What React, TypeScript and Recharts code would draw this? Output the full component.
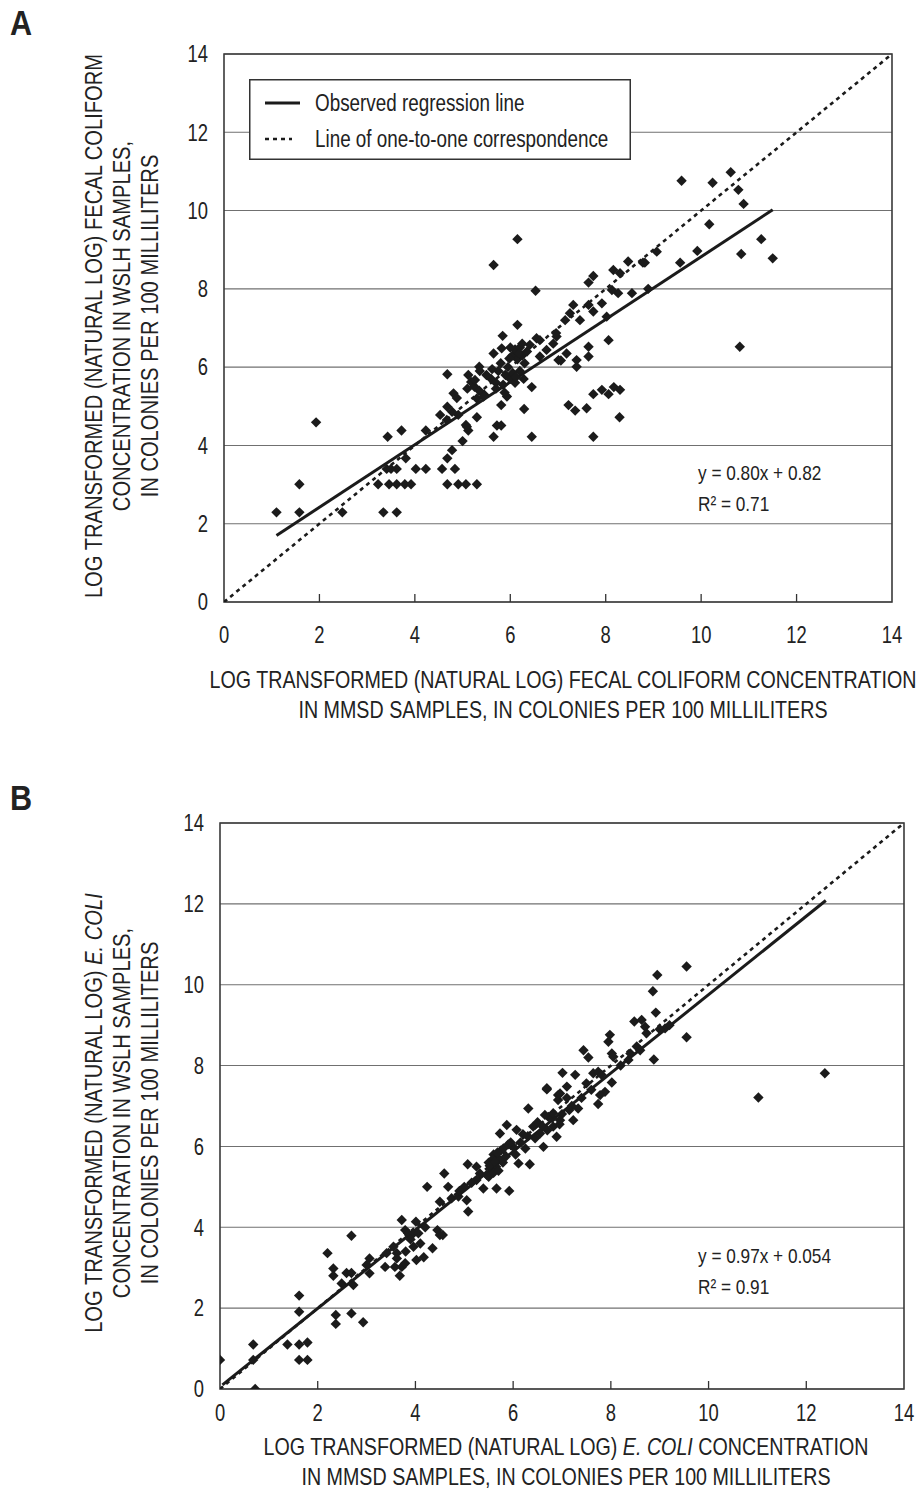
import React from 'react';
import {
  ScatterChart,
  Scatter,
  XAxis,
  YAxis,
  CartesianGrid,
  ReferenceArea,
  Legend,
} from 'recharts';

// Condensed sans: Liberation Sans squeezed horizontally
const FONT = "'Liberation Sans', Arial, sans-serif";
const NARROW = 0.82;
const INK = '#1b1b1b';
const TEXT = '#222';

// Shared axis ticks (natural-log units)
const AXIS_TICKS = [0, 2, 4, 6, 8, 10, 12, 14];

// A: fecal coliform, [MMSD, WSLH]
const fecalPoints: [number, number][] = [
  [1.10, 2.29], [1.58, 3.01], [1.58, 2.29], [1.93, 4.59], [2.48, 2.29],
  [3.34, 2.29], [3.62, 2.29],
  [3.23, 3.01], [3.46, 3.01], [3.62, 3.01], [3.79, 3.01], [3.92, 3.01],
  [3.41, 3.40], [3.50, 3.40], [3.62, 3.40], [4.02, 3.40], [4.23, 3.40],
  [3.81, 3.67], [3.43, 4.22], [3.72, 4.38], [4.23, 4.38],
  [4.57, 3.40], [4.84, 3.40],
  [4.68, 3.01], [4.91, 3.01], [5.07, 3.01], [5.30, 3.01],
  [4.68, 3.67], [4.78, 3.88], [5.00, 4.11], [5.07, 4.52], [5.12, 4.38], [5.30, 4.72],
  [5.65, 4.22], [5.72, 4.51], [5.81, 4.51], [5.81, 5.03], [6.29, 4.93], [6.45, 4.22],
  [4.53, 4.78], [4.67, 4.65], [4.68, 4.99], [4.91, 4.78], [4.78, 4.86], [4.81, 5.33], [4.88, 5.21],
  [4.68, 5.82], [5.09, 4.48],
  [5.12, 5.80], [5.18, 5.62], [5.25, 5.50], [5.10, 5.45], [5.45, 5.30], [5.35, 5.40], [5.30, 5.20],
  [5.35, 6.01], [5.36, 5.90], [5.26, 5.67], [5.44, 5.25],
  [5.65, 6.35], [5.84, 6.80], [6.15, 7.08], [5.65, 8.61], [6.15, 9.27], [6.53, 7.95],
  [5.93, 5.25], [6.45, 5.49],
  [5.60, 5.70], [5.70, 5.60], [5.75, 5.90], [5.80, 6.10], [5.85, 5.55], [5.90, 5.80], [5.95, 6.00],
  [6.00, 5.70], [6.05, 6.30], [6.10, 6.45], [6.15, 6.20], [6.20, 6.50], [6.25, 6.30], [6.30, 6.10],
  [6.05, 5.85], [5.70, 5.45], [5.62, 5.95], [5.50, 5.80], [6.00, 6.50], [6.20, 5.90], [6.35, 6.40],
  [6.10, 5.60], [5.82, 6.48], [6.41, 6.57], [6.55, 6.74], [6.62, 6.27], [6.76, 6.44], [6.97, 6.78],
  [7.01, 6.18], [6.62, 6.69], [6.90, 6.60],
  [6.25, 6.60], [6.18, 6.35], [5.98, 6.22], [6.12, 5.75], [5.88, 5.35], [6.28, 5.70],
  [9.59, 10.76], [10.24, 10.71], [10.62, 10.98], [10.78, 10.53], [10.89, 10.17], [10.17, 9.65],
  [11.26, 9.27], [10.84, 8.89], [11.50, 8.78], [10.81, 6.52],
  [9.92, 8.97], [9.56, 8.67], [9.07, 8.95], [8.78, 8.67], [8.82, 8.67], [8.47, 8.70], [8.30, 8.40],
  [8.16, 8.48], [7.74, 8.33], [7.64, 8.16], [8.89, 8.00], [8.55, 7.89], [8.26, 7.89], [8.13, 7.97],
  [7.92, 7.63], [7.74, 7.42], [7.64, 7.59], [7.32, 7.59], [7.25, 7.38], [7.46, 7.20], [7.15, 7.20],
  [8.02, 7.29], [6.96, 6.87], [7.64, 6.52], [8.06, 6.69], [7.18, 6.35], [7.06, 6.17], [7.39, 6.18],
  [7.39, 6.01], [7.64, 6.27],
  [7.74, 5.31], [7.92, 5.42], [8.06, 5.31], [8.17, 5.49], [8.30, 5.42], [7.22, 5.03], [7.36, 4.89],
  [7.60, 4.95], [8.29, 4.72], [7.74, 4.22],
];

// B: E. coli, [MMSD, WSLH]
const ecoliPoints: [number, number][] = [
  [0.00, 0.72], [0.68, 1.10], [0.68, 0.72], [0.72, 0.00], [1.38, 1.10], [1.62, 1.10], [1.79, 1.15],
  [1.62, 0.72], [1.79, 0.72], [1.62, 2.31], [1.62, 1.91],
  [2.37, 1.83], [2.37, 1.61], [2.69, 1.87], [2.93, 1.65], [2.20, 3.36], [2.32, 2.98], [2.32, 2.80],
  [2.69, 3.79], [2.59, 2.87], [2.69, 2.87], [2.49, 2.61], [2.73, 2.57],
  [3.06, 3.23], [3.06, 2.86], [3.00, 3.07], [3.38, 3.02], [3.41, 3.36], [3.55, 3.52], [3.62, 3.36],
  [3.62, 3.23], [3.72, 4.18], [3.79, 3.93], [3.85, 3.85], [4.01, 4.14], [3.96, 3.85], [4.06, 3.85],
  [3.96, 3.52], [4.02, 3.19], [4.17, 3.26], [3.72, 3.02], [3.79, 3.11], [3.68, 2.80], [3.58, 3.02],
  [4.35, 3.48], [4.45, 3.93], [4.50, 3.81], [4.56, 3.81], [3.90, 3.70], [4.10, 3.60], [3.80, 3.40],
  [4.20, 4.00],
  [4.24, 5.00], [4.59, 5.33], [4.67, 5.00], [4.50, 4.63], [4.74, 4.72], [4.88, 4.76], [5.05, 4.67],
  [5.08, 4.39], [5.07, 5.56], [5.25, 5.50], [5.32, 5.33], [5.25, 5.17], [5.39, 4.96], [5.00, 5.00],
  [5.15, 5.10], [4.90, 4.90],
  [5.46, 5.30], [5.50, 5.60], [5.55, 5.45], [5.60, 5.80], [5.65, 5.50], [5.70, 5.70], [5.75, 5.90],
  [5.79, 5.60], [5.50, 5.25], [5.60, 5.35], [5.70, 5.40], [5.80, 5.95], [5.66, 4.96], [5.92, 4.90],
  [5.73, 6.32], [5.87, 6.53], [6.07, 6.41], [6.00, 5.99], [6.11, 5.58], [6.34, 5.56], [6.31, 6.94],
  [6.69, 7.41], [6.62, 5.99], [6.41, 6.49], [6.55, 6.32], [6.72, 6.73], [6.82, 6.49], [6.89, 6.24],
  [6.92, 7.15], [5.95, 6.10], [6.05, 5.80], [6.15, 6.10], [6.20, 6.30], [6.25, 5.95], [6.45, 6.20],
  [6.50, 6.60], [6.60, 6.50], [6.70, 6.40], [6.80, 6.70], [6.95, 6.55], [7.00, 6.80],
  [5.58, 5.68], [5.68, 5.85], [5.85, 5.75], [5.52, 5.52], [5.62, 5.62], [5.90, 6.05], [6.30, 6.25],
  [9.55, 10.45], [8.95, 10.24], [8.86, 9.84], [8.92, 9.31], [9.55, 8.70], [8.88, 8.15], [8.48, 9.09],
  [8.63, 9.13], [8.70, 8.96], [8.73, 8.80], [8.53, 8.47], [8.60, 8.38], [9.11, 8.92], [7.98, 8.76],
  [7.95, 8.59], [8.02, 8.30], [8.05, 8.22], [7.44, 8.38], [7.54, 8.20], [8.36, 8.14], [11.02, 7.21],
  [12.38, 7.81],
  [7.01, 7.82], [7.27, 7.77], [7.64, 7.81], [7.74, 7.85], [7.81, 7.77], [7.50, 7.56], [8.02, 7.58],
  [7.88, 7.35], [7.78, 7.27], [7.74, 7.05], [7.33, 6.94], [7.10, 7.48], [6.69, 7.44], [6.92, 7.27],
  [6.65, 6.78], [6.82, 6.82], [6.96, 6.65], [7.23, 6.65], [6.96, 7.31], [7.10, 7.20], [7.20, 7.00],
  [7.40, 7.20], [7.60, 7.40], [7.15, 6.90], [8.20, 8.00], [8.40, 8.30], [9.00, 8.90], [9.20, 9.00],
];

// Least-squares fits and the x-range each fitted line spans
const fecalFit = { slope: 0.8, intercept: 0.82, r2: 0.71, xRange: [1.1, 11.5] };
const ecoliFit = { slope: 0.97, intercept: 0.054, r2: 0.91, xRange: [0.05, 12.4] };

// Line of one-to-one correspondence
const oneToOneRange = [0, 14];

const REG_NAME = 'Observed regression line';
const ONE_NAME = 'Line of one-to-one correspondence';
const LEGEND_ORDER = [REG_NAME, ONE_NAME];

const lineStyles: Record<string, { width: number; dash?: string; len: number }> = {
  [REG_NAME]: { width: 3, len: 35 },
  [ONE_NAME]: { width: 2.6, dash: '4 4', len: 27 },
};

type Fit = { slope: number; intercept: number; r2: number; xRange: number[] };

const toXY = (pts: [number, number][]) => pts.map(([x, y]) => ({ x, y }));
const fitLine = (f: Fit) => f.xRange.map((x) => ({ x, y: f.slope * x + f.intercept }));
const diagonal = oneToOneRange.map((v) => ({ x: v, y: v }));

// Text drawn in a horizontally condensed face
const NText = ({
  x,
  y,
  size,
  anchor = 'start',
  rotate = 0,
  squeeze = NARROW,
  dy,
  weight,
  children,
}: {
  x: number;
  y: number;
  size: number;
  anchor?: 'start' | 'middle' | 'end';
  rotate?: number;
  squeeze?: number;
  dy?: string;
  weight?: string;
  children: React.ReactNode;
}) => (
  <text
    transform={`translate(${x},${y}) rotate(${rotate}) scale(${squeeze},1)`}
    textAnchor={anchor}
    dy={dy}
    fontFamily={FONT}
    fontSize={size}
    fontWeight={weight}
    fill={TEXT}
  >
    {children}
  </text>
);

const Diamond = (props: any) => {
  const { cx, cy } = props;
  if (cx == null || cy == null) return <g />;
  const r = 5.2;
  return (
    <polygon
      points={`${cx},${cy - r} ${cx + r},${cy} ${cx},${cy + r} ${cx - r},${cy}`}
      fill={INK}
    />
  );
};

const NoShape = () => <g />;

const makeXTick = (labelOffset: number) => (props: any) => {
  const { x, y, payload } = props;
  const v = payload.value;
  const inner = v > 0 && v < 14;
  return (
    <g>
      {inner && <line x1={x} x2={x} y1={y} y2={y - 8} stroke="#333" strokeWidth={1.3} />}
      <NText x={x} y={y + labelOffset} dy="0.36em" anchor="middle" size={23} squeeze={0.8}>
        {v}
      </NText>
    </g>
  );
};

const YTick = (props: any) => {
  const { x, y, payload } = props;
  return (
    <NText x={x} y={y} dy="0.36em" anchor="end" size={23} squeeze={0.8}>
      {payload.value}
    </NText>
  );
};

const LegendBox = (props: any) => {
  const payload: any[] = props.payload || [];
  const items = LEGEND_ORDER.filter((n) => payload.some((p) => p.value === n));
  return (
    <svg width={382} height={81} style={{ display: 'block' }}>
      <rect x={0.75} y={0.75} width={380.5} height={79.5} fill="#fff" stroke="#333" strokeWidth={1.5} />
      {items.map((name, i) => {
        const st = lineStyles[name];
        const cy = 24 + i * 36;
        return (
          <g key={name}>
            <line
              x1={16}
              x2={16 + st.len}
              y1={cy}
              y2={cy}
              stroke={INK}
              strokeWidth={st.width}
              strokeDasharray={st.dash}
            />
            <NText x={66} y={cy + 8} size={23}>
              {name}
            </NText>
          </g>
        );
      })}
    </svg>
  );
};

type PanelProps = {
  points: [number, number][];
  fit: Fit;
  width: number;
  height: number;
  margin: { top: number; right: number; bottom: number; left: number };
  tickOffset: number;
  legend?: { left: number; top: number };
};

const Panel = ({ points, fit, width, height, margin, tickOffset, legend }: PanelProps) => (
  <ScatterChart width={width} height={height} margin={margin}>
    <CartesianGrid vertical={false} stroke="#707070" strokeWidth={1.1} />
    <XAxis
      type="number"
      dataKey="x"
      domain={[0, 14]}
      ticks={AXIS_TICKS}
      interval={0}
      allowDataOverflow
      axisLine={false}
      tickLine={false}
      tickSize={0}
      tickMargin={0}
      height={40}
      tick={makeXTick(tickOffset)}
    />
    <YAxis
      type="number"
      dataKey="y"
      domain={[0, 14]}
      ticks={AXIS_TICKS}
      interval={0}
      allowDataOverflow
      axisLine={false}
      tickLine={false}
      tickSize={0}
      tickMargin={16}
      width={60}
      tick={YTick}
    />
    <ReferenceArea x1={0} x2={14} y1={0} y2={14} fill="none" fillOpacity={0} stroke="#3a3a3a" strokeWidth={1.6} />
    <Scatter
      name={REG_NAME}
      data={fitLine(fit)}
      shape={NoShape}
      line={{ stroke: INK, strokeWidth: 3 }}
      fill={INK}
      isAnimationActive={false}
    />
    <Scatter
      name={ONE_NAME}
      data={diagonal}
      shape={NoShape}
      line={{ stroke: INK, strokeWidth: 2.6, strokeDasharray: '4 4' }}
      fill={INK}
      isAnimationActive={false}
    />
    <Scatter
      name="Samples"
      data={toXY(points)}
      shape={Diamond}
      fill={INK}
      legendType="none"
      isAnimationActive={false}
    />
    {legend && (
      <Legend
        layout="horizontal"
        verticalAlign="middle"
        align="center"
        content={LegendBox}
        wrapperStyle={{ left: legend.left, top: legend.top, width: 382, height: 81 }}
      />
    )}
  </ScatterChart>
);

const fitText = (f: Fit) => `y = ${f.slope.toFixed(2)}x + ${f.intercept}`;
const r2Text = (f: Fit) => `R\u00B2 = ${f.r2.toFixed(2)}`;

const YTitle = ({ cy, lines }: { cy: number; lines: React.ReactNode[] }) => (
  <g>
    {lines.map((ln, i) => (
      <NText key={i} x={102 + i * 28} y={cy} rotate={-90} anchor="middle" size={24} squeeze={0.84}>
        {ln}
      </NText>
    ))}
  </g>
);

const XTitle = ({ cx, y, lines }: { cx: number; y: number; lines: React.ReactNode[] }) => (
  <g>
    {lines.map((ln, i) => (
      <NText key={i} x={cx} y={y + i * 30} anchor="middle" size={24}>
        {ln}
      </NText>
    ))}
  </g>
);

const FitLabel = ({ x, y, fit }: { x: number; y: number; fit: Fit }) => (
  <g>
    <NText x={x} y={y} size={21}>{fitText(fit)}</NText>
    <NText x={x} y={y + 31} size={21}>{r2Text(fit)}</NText>
  </g>
);

export default function App() {
  return (
    <div style={{ position: 'absolute', left: 0, top: 0, width: 919, height: 1498, background: '#fff' }}>
      <div style={{ position: 'absolute', left: 0, top: 0 }}>
        <Panel
          points={fecalPoints}
          fit={fecalFit}
          width={919}
          height={760}
          margin={{ top: 54, right: 27, bottom: 118, left: 164 }}
          tickOffset={33}
          legend={{ left: 249, top: 79 }}
        />
      </div>
      <div style={{ position: 'absolute', left: 0, top: 770 }}>
        <Panel
          points={ecoliPoints}
          fit={ecoliFit}
          width={919}
          height={728}
          margin={{ top: 53, right: 15, bottom: 69, left: 160 }}
          tickOffset={24}
        />
      </div>
      <svg
        width={919}
        height={1498}
        style={{ position: 'absolute', left: 0, top: 0, pointerEvents: 'none' }}
      >
        <NText x={10} y={35} size={36} weight="bold" squeeze={0.85}>A</NText>
        <NText x={10} y={810} size={36} weight="bold" squeeze={0.85}>B</NText>

        <YTitle
          cy={326}
          lines={[
            'LOG TRANSFORMED (NATURAL LOG) FECAL COLIFORM',
            'CONCENTRATION IN WSLH SAMPLES,',
            'IN COLONIES PER 100 MILLILITERS',
          ]}
        />
        <XTitle
          cx={563}
          y={688}
          lines={[
            'LOG TRANSFORMED (NATURAL LOG) FECAL COLIFORM CONCENTRATION',
            'IN MMSD SAMPLES, IN COLONIES PER 100 MILLILITERS',
          ]}
        />
        <FitLabel x={698} y={480} fit={fecalFit} />

        <YTitle
          cy={1113}
          lines={[
            <>
              LOG TRANSFORMED (NATURAL LOG) <tspan fontStyle="italic">E. COLI</tspan>
            </>,
            'CONCENTRATION IN WSLH SAMPLES,',
            'IN COLONIES PER 100 MILLILITERS',
          ]}
        />
        <XTitle
          cx={566}
          y={1455}
          lines={[
            <>
              LOG TRANSFORMED (NATURAL LOG) <tspan fontStyle="italic">E. COLI</tspan> CONCENTRATION
            </>,
            'IN MMSD SAMPLES, IN COLONIES PER 100 MILLILITERS',
          ]}
        />
        <FitLabel x={698} y={1263} fit={ecoliFit} />
      </svg>
    </div>
  );
}
